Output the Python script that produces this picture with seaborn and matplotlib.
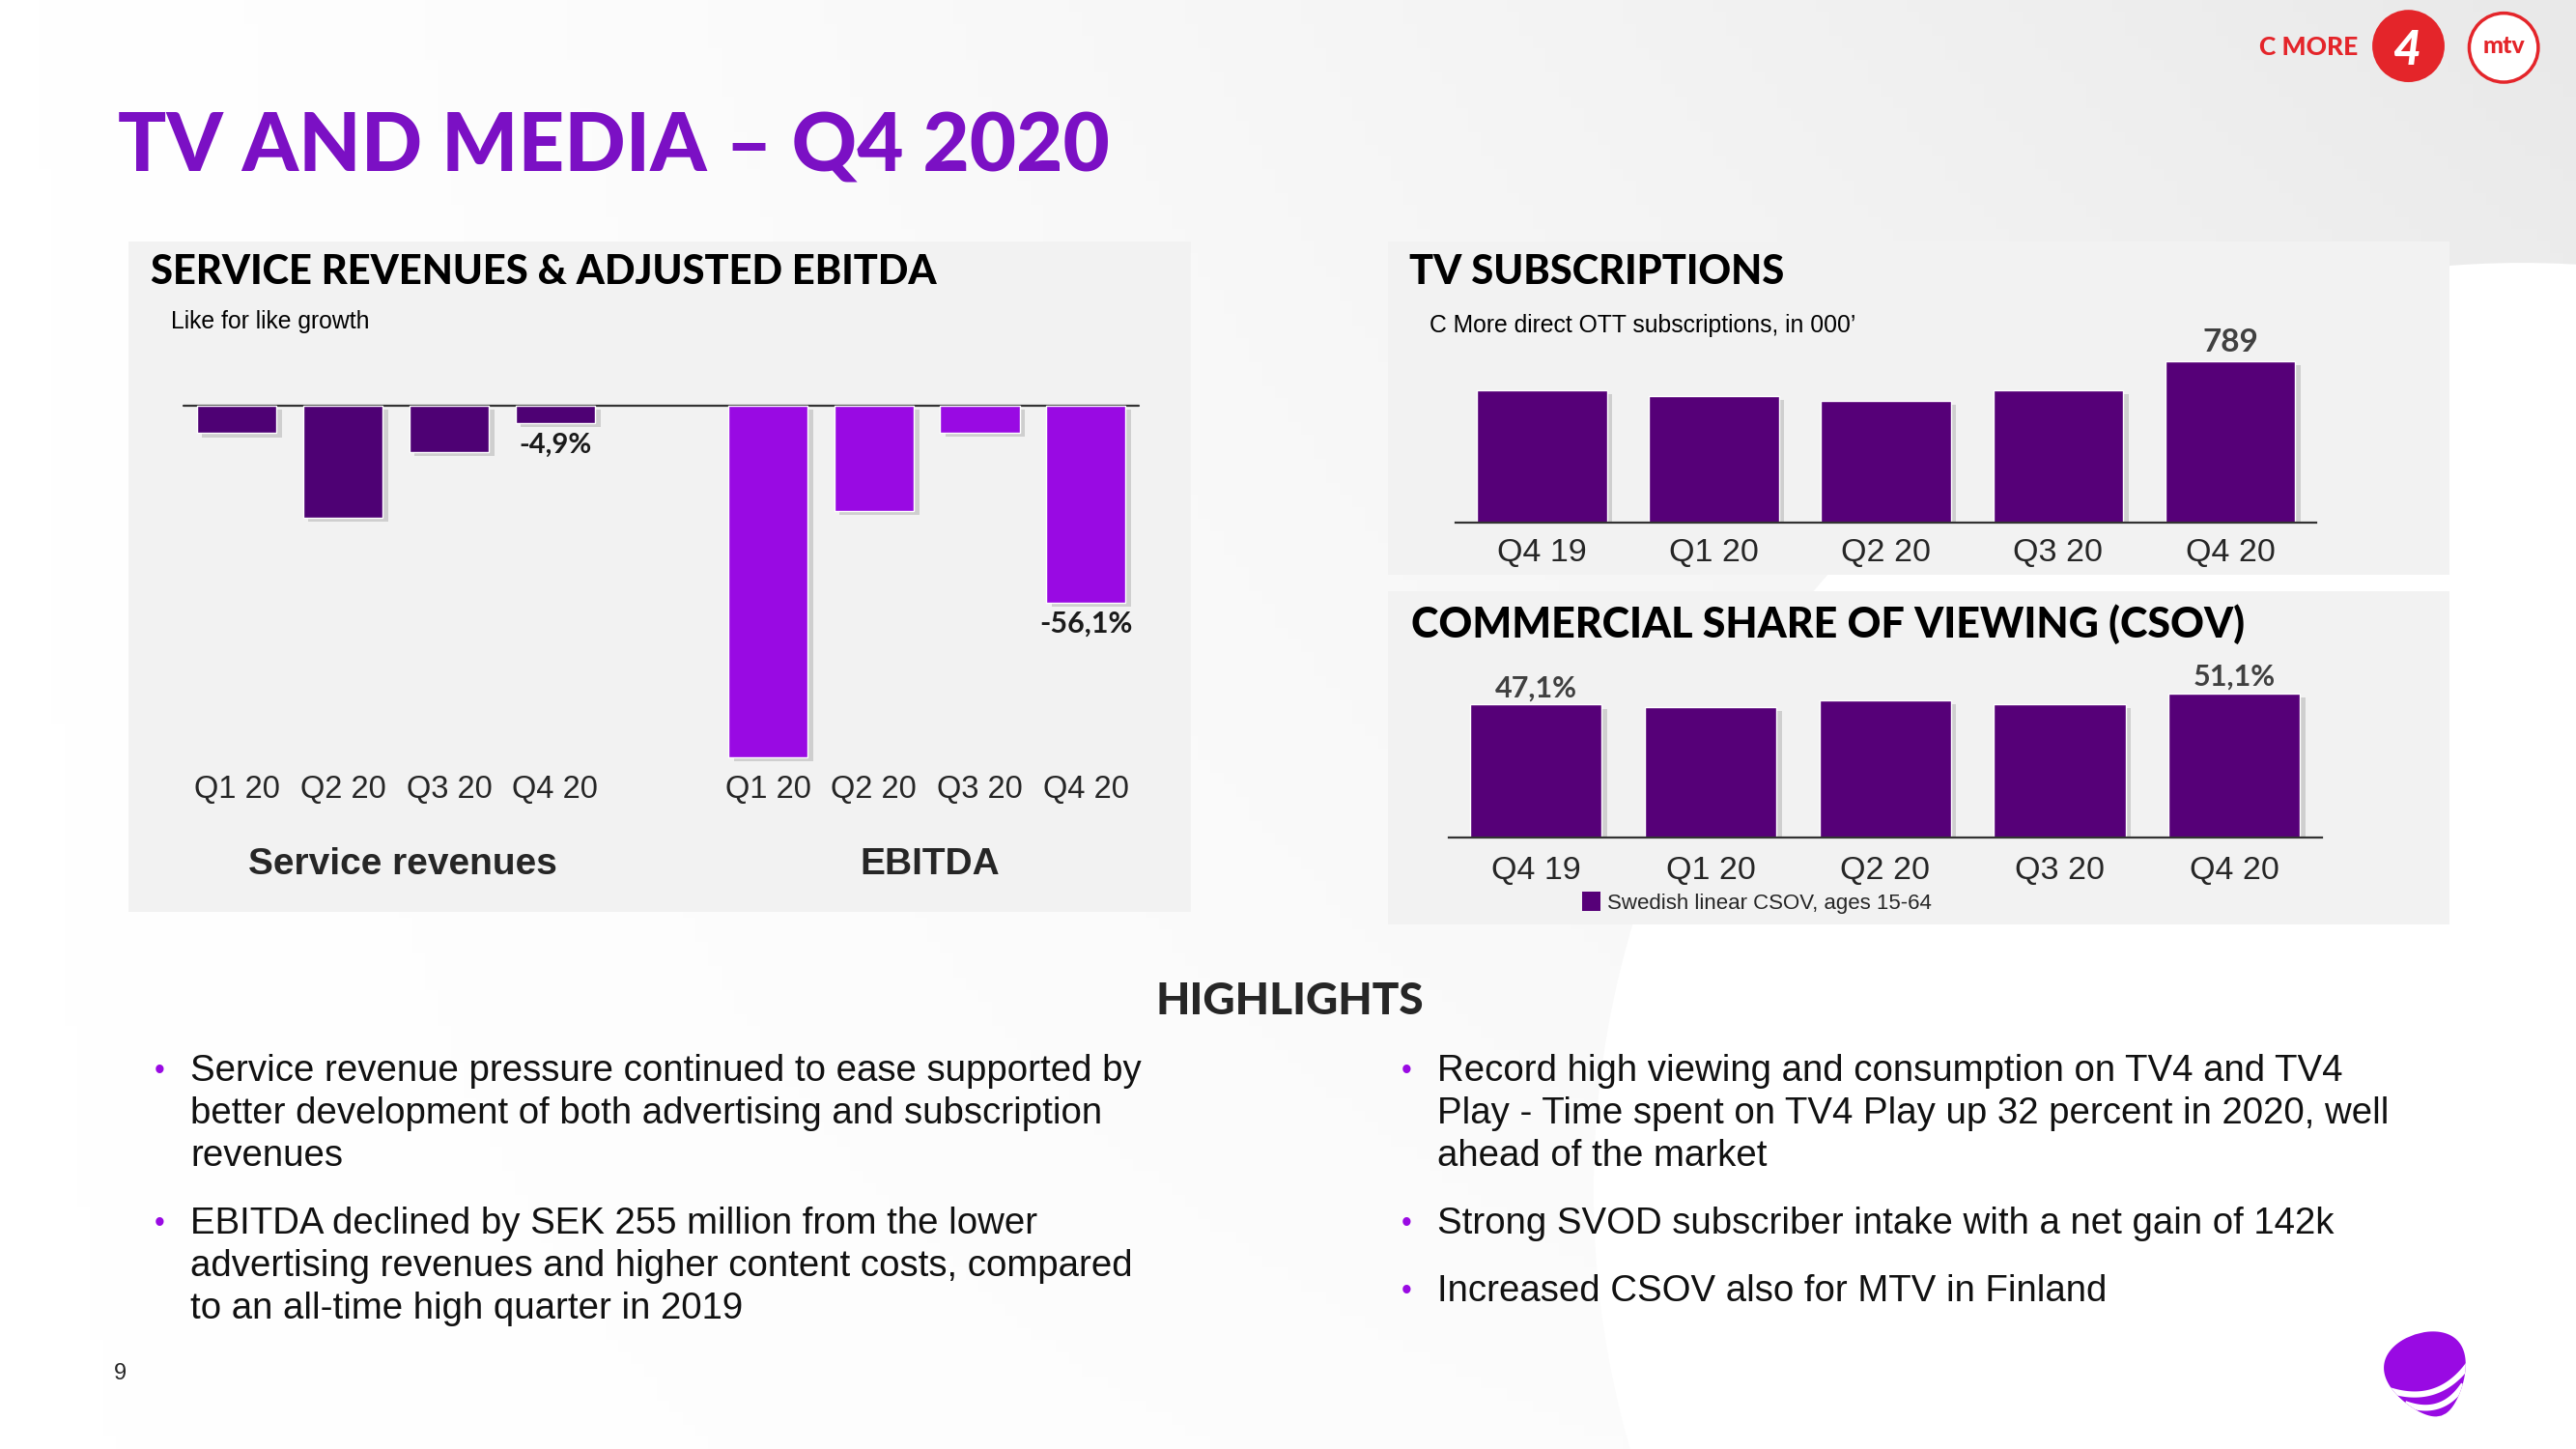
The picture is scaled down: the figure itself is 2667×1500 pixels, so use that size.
import numpy as np
import pandas as pd
import matplotlib
matplotlib.use("Agg")
import matplotlib.pyplot as plt
import matplotlib.patheffects as pe
from matplotlib.patches import Rectangle, Circle, Polygon, Patch
import seaborn as sns

# ---------------- data ----------------
sr_quarters = ["Q1 20", "Q2 20", "Q3 20", "Q4 20"]
service_revenue_growth = [-7.8, -31.8, -13.1, -4.9]
ebitda_growth = [-100.0, -30.0, -7.6, -56.1]
sr_labels = ["", "", "", "-4,9%"]
ebitda_labels = ["", "", "", "-56,1%"]

sub_quarters = ["Q4 19", "Q1 20", "Q2 20", "Q3 20", "Q4 20"]
ott_subscriptions = [647, 620, 596, 649, 789]
sub_labels = ["", "", "", "", "789"]

csov_quarters = ["Q4 19", "Q1 20", "Q2 20", "Q3 20", "Q4 20"]
csov_share = [47.1, 46.3, 48.5, 47.2, 51.1]
csov_labels = ["47,1%", "", "", "", "51,1%"]

left_bullets = [
    ["Service revenue pressure continued to ease supported by",
     "better development of both advertising and subscription",
     "revenues"],
    ["EBITDA declined by SEK 255 million from the lower",
     "advertising revenues and higher content costs, compared",
     "to an all-time high quarter in 2019"],
]
right_bullets = [
    ["Record high viewing and consumption on TV4 and TV4",
     "Play - Time spent on TV4 Play up 32 percent in 2020, well",
     "ahead of the market"],
    ["Strong SVOD subscriber intake with a net gain of 142k"],
    ["Increased CSOV also for MTV in Finland"],
]

# ---------------- style ----------------
sns.set_theme(style="white")
plt.rcParams["font.family"] = ["Liberation Sans", "DejaVu Sans"]
HEAD = ["Lato", "DejaVu Sans"]
BODY = ["Liberation Sans", "DejaVu Sans"]

DARK = "#4E0174"
BRIGHT = "#990AE3"
SUBCOL = "#560078"
TITLECOL = "#7B10C4"
PANEL = "#F2F2F2"
RED = "#E4252A"

W, H = 1568, 882
fig = plt.figure(figsize=(26.67, 15), dpi=100)

# background axes in reference pixel coordinates
bg = fig.add_axes([0, 0, 1, 1], zorder=0)
bg.axis("off")
xx, yy = np.meshgrid(np.linspace(0, 1, 200), np.linspace(0, 1, 120))
g = (xx ** 1.3) * (1 - 0.75 * yy)
bg.imshow(g, extent=(0, W, H, 0), cmap=matplotlib.colors.LinearSegmentedColormap.from_list(
    "bgc", ["#FFFFFF", "#E9E9E9"]), vmin=0, vmax=1, aspect="auto", zorder=0)
bg.add_patch(Circle((1535, 725), 565, facecolor="white", edgecolor="none", zorder=1))
bg.set_xlim(0, W)
bg.set_ylim(H, 0)

# panels
for (x0, y0, x1, y1) in [(78, 147, 725, 555), (845, 147, 1491, 350), (845, 360, 1491, 563)]:
    bg.add_patch(Rectangle((x0, y0), x1 - x0, y1 - y0, facecolor=PANEL, edgecolor="none", zorder=2))

def T(x, y, s, **kw):
    kw.setdefault("zorder", 5)
    return bg.text(x, y, s, **kw)

# title
T(72, 90, "TV AND MEDIA \u2013 Q4 2020", fontsize=60, fontweight="black", family=HEAD,
  color=TITLECOL, va="center", ha="left")

# section headings
T(92, 166, "SERVICE REVENUES & ADJUSTED EBITDA", fontsize=30, fontweight="black", family=HEAD,
  color="black", va="center")
T(104, 196, "Like for like growth", fontsize=17.8, family=BODY, color="black", va="center")
T(858, 166, "TV SUBSCRIPTIONS", fontsize=30, fontweight="black", family=HEAD, color="black", va="center")
T(870, 198, "C More direct OTT subscriptions, in 000\u2019", fontsize=17.8, family=BODY,
  color="black", va="center")
T(859, 380, "COMMERCIAL SHARE OF VIEWING (CSOV)", fontsize=31, fontweight="black", family=HEAD,
  color="black", va="center")
T(245, 526, "Service revenues", fontsize=28, fontweight="bold", family=BODY, ha="center", va="center")
T(566, 526, "EBITDA", fontsize=28, fontweight="bold", family=BODY, ha="center", va="center")

# ---------------- chart axes ----------------
def add_ax(x0, x1, ytop, ybot):
    ax = fig.add_axes([x0 / W, 1 - ybot / H, (x1 - x0) / W, (ybot - ytop) / H], zorder=3)
    ax.set_facecolor("none")
    for s in ax.spines.values():
        s.set_visible(False)
    return ax

shadow = [pe.SimplePatchShadow(offset=(4, -3), alpha=0.22, shadow_rgbFace="#555555"), pe.Normal()]

def bars(ax, cats, vals, color, width):
    df = pd.DataFrame({"q": cats, "v": vals})
    sns.barplot(data=df, x="q", y="v", ax=ax, color=color, saturation=1, width=width,
                errorbar=None, order=cats)
    for p in ax.patches:
        p.set_path_effects(shadow)
    ax.set_xlabel("")
    ax.set_ylabel("")
    ax.set_yticks([])
    return ax.containers[0]

# left chart: shared scale
ylo, yhi = -102, 2
sc = 2.139
ytop_l = 247 - yhi * sc
ybot_l = 247 - ylo * sc
ax_sr = add_ax(111.75, 370.25, ytop_l, ybot_l)
c = bars(ax_sr, sr_quarters, service_revenue_growth, DARK, 0.75)
ax_sr.set_ylim(ylo, yhi)
ax_sr.axhline(0, xmin=0, xmax=(693.25 - 111.75) / (370.25 - 111.75), color="#333333", lw=1.6,
              clip_on=False, zorder=0)
ax_sr.bar_label(c, labels=sr_labels, padding=7, fontsize=21, fontweight="bold", family=HEAD,
                color="#1a1a1a")

ax_eb = add_ax(435.25, 693.25, ytop_l, ybot_l)
c = bars(ax_eb, sr_quarters, ebitda_growth, BRIGHT, 0.75)
ax_eb.set_ylim(ylo, yhi)
ax_eb.bar_label(c, labels=ebitda_labels, padding=5.5, fontsize=22, fontweight="bold", family=HEAD,
                color="#1a1a1a")
for ax in (ax_sr, ax_eb):
    ax.tick_params(axis="x", length=0, pad=7.5, labelsize=23.5)
    for lab in ax.get_xticklabels():
        lab.set_family(BODY)

# subscriptions
sub_max = 850
sub_sc = 98 / 789
ax_sub = add_ax(886.1, 1409.9, 318 - sub_max * sub_sc, 318)
c = bars(ax_sub, sub_quarters, ott_subscriptions, SUBCOL, 0.755)
ax_sub.set_ylim(0, sub_max)
ax_sub.bar_label(c, labels=sub_labels, padding=4, fontsize=24, fontweight="bold", family=HEAD,
                 color="#404040")
ax_sub.tick_params(axis="x", length=0, pad=11.5, labelsize=24.5)

# CSOV
cs_max = 56
cs_sc = 88 / 51.1
ax_cs = add_ax(881.9, 1413.1, 510 - cs_max * cs_sc, 510)
c = bars(ax_cs, csov_quarters, csov_share, SUBCOL, 0.753)
ax_cs.set_ylim(0, cs_max)
ax_cs.bar_label(c, labels=csov_labels, padding=2, fontsize=22, fontweight="bold", family=HEAD,
                color="#404040")
ax_cs.tick_params(axis="x", length=0, pad=13.5, labelsize=24.5)
for ax in (ax_sub, ax_cs):
    ax.spines["bottom"].set_visible(True)
    ax.spines["bottom"].set_color("#333333")
    ax.spines["bottom"].set_linewidth(1.6)
    for lab in ax.get_xticklabels():
        lab.set_family(BODY)

leg = ax_cs.legend(handles=[Patch(facecolor=SUBCOL, edgecolor="none",
                                  label="Swedish linear CSOV, ages 15-64")],
                   loc="center left", bbox_to_anchor=((963 - 881.9) / (1413.1 - 881.9), -0.41),
                   frameon=False, fontsize=16, handlelength=0.85, handleheight=1.0,
                   handletextpad=0.3, borderpad=0, borderaxespad=0)
for t in leg.get_texts():
    t.set_family(BODY)

# ---------------- highlights ----------------
T(785, 610, "HIGHLIGHTS", fontsize=33, fontweight="black", family=HEAD, ha="center", va="center")
LS = 26
def bullets(xb, xt, y0, groups, gaps):
    y = y0
    for gi, lines in enumerate(groups):
        T(xb, y, "\u2022", fontsize=22, color=BRIGHT, ha="center", va="center", family=BODY)
        for li, line in enumerate(lines):
            T(xt, y + li * LS, line, fontsize=27.6, family=BODY, color="#111111", va="center")
        if gi < len(gaps):
            y += (len(lines) - 1) * LS + gaps[gi]

bullets(97, 116, 652, left_bullets, [41])
bullets(856, 875, 652, right_bullets, [41, 41])

T(73, 836, "9", fontsize=17, family=BODY, ha="center", va="center")

# ---------------- logos ----------------
T(1405, 29, "C MORE", fontsize=19, fontweight="black", family=HEAD, color=RED, ha="center", va="center")
bg.add_patch(Circle((1466, 28), 22, facecolor=RED, edgecolor="none", zorder=5))
T(1465, 31, "4", fontsize=36, fontweight="black", family=HEAD, color="white", ha="center",
  va="center", style="italic")
bg.add_patch(Circle((1524, 29), 21, facecolor="white", edgecolor=RED, lw=2.5, zorder=5))
T(1524, 28, "mtv", fontsize=18, fontweight="black", family=HEAD, color=RED, ha="center", va="center")

# Telia pebble
def egg_xy(rw, rh):
    v = np.linspace(-1, 1, 120)
    w = np.sqrt(np.clip(1 - v ** 2, 0, 1)) * (1 - 0.32 * v)
    xs = np.concatenate([w * rw, (-w * rw)[::-1]])
    ys = np.concatenate([v * rh, v[::-1] * rh])
    return xs, ys

def rot(xs, ys, cx, cy, ang):
    a = np.deg2rad(ang)
    return (cx + xs * np.cos(a) - ys * np.sin(a), cy + xs * np.sin(a) + ys * np.cos(a))

ex, ey = egg_xy(24, 26)
px, py = rot(ex, ey, 1478, 837, -18)
egg = Polygon(np.column_stack([px, py]), closed=True, facecolor=BRIGHT, edgecolor="none", zorder=5)
bg.add_patch(egg)
for v0 in (0.12, 0.52):
    s = np.linspace(-1.1, 1.1, 60)
    w0 = np.sqrt(1 - v0 ** 2) * (1 - 0.32 * v0) * 24
    xs = s * w0
    ys = v0 * 26 + 0.30 * 26 * (1 - s ** 2) * (1 - 0.4 * v0)
    lx, ly = rot(xs, ys, 1478, 837, -18)
    ln, = bg.plot(lx, ly, color="white", lw=4.5, zorder=6, solid_capstyle="butt")
    ln.set_clip_path(egg)

fig.savefig("out.png", dpi=100)
